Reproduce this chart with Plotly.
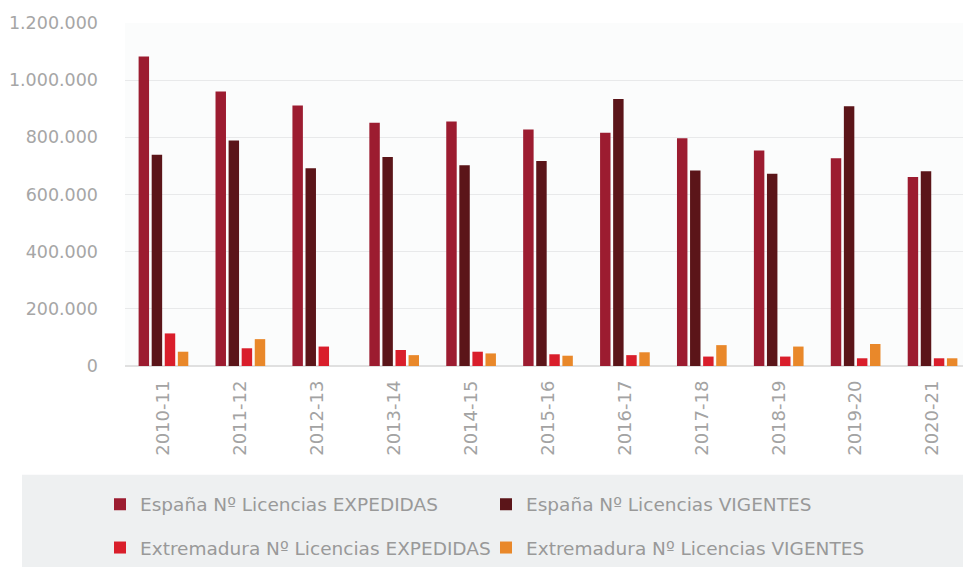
import plotly.graph_objects as go

categories = ["2010-11", "2011-12", "2012-13", "2013-14", "2014-15", "2015-16",
              "2016-17", "2017-18", "2018-19", "2019-20", "2020-21"]
espana_expedidas = [1083000, 960000, 911000, 851000, 855000, 827000, 816000, 797000, 754000, 727000, 661000]
espana_vigentes = [739000, 789000, 692000, 731000, 702000, 717000, 934000, 684000, 673000, 909000, 681000]
extremadura_expedidas = [114000, 62000, 68000, 56000, 50000, 41000, 38000, 33000, 33000, 27000, 27000]
extremadura_vigentes = [50000, 94000, None, 38000, 44000, 36000, 48000, 73000, 68000, 77000, 27000]

names = ["España Nº Licencias EXPEDIDAS", "España Nº Licencias VIGENTES",
         "Extremadura Nº Licencias EXPEDIDAS", "Extremadura Nº Licencias VIGENTES"]
colors = ["#9c1c30", "#5b1519", "#d91e2b", "#e9882a"]
series = [espana_expedidas, espana_vigentes, extremadura_expedidas, extremadura_vigentes]
legends = ["legend", "legend", "legend2", "legend2"]

# page has an 8px body margin; figure sized to fill the rest of the window
W, H = 963, 559
L, T = 117, 15
PB = 359.7          # bottom of plot area in figure px
PW, PH = W - L, PB - T

def px_x(x):
    return (x - L) / PW

def px_y(y):
    return (PB - y) / PH

fig = go.Figure()
for name, col, vals, lg in zip(names, colors, series, legends):
    fig.add_trace(go.Bar(x=categories, y=vals, name=name, marker_color=col,
                         marker_line_width=0, legend=lg))

font_fam = "DejaVu Sans, sans-serif"
leg_common = dict(orientation="h", xanchor="left", yanchor="middle",
                  bgcolor="rgba(0,0,0,0)", entrywidth=341, entrywidthmode="pixels",
                  font=dict(family=font_fam, size=18.5, color="#999999"),
                  itemclick=False, itemdoubleclick=False)
fig.update_layout(
    width=W, height=H,
    margin=dict(l=L, r=0, t=T, b=H - PB),
    paper_bgcolor="white", plot_bgcolor="#fbfcfc",
    barmode="group", bargap=0.32, bargroupgap=0.2,
    separators=",.",
    showlegend=True,
    legend=dict(x=px_x(92), y=px_y(499), **leg_common),
    legend2=dict(x=px_x(92), y=px_y(543), **leg_common),
    xaxis=dict(type="category", tickangle=-90,
               tickfont=dict(family=font_fam, size=18, color="#a3a3a3"),
               showgrid=False, showline=False, ticks="", ticklabelstandoff=10),
    yaxis=dict(range=[0, 1200000], dtick=200000, tickformat=",d",
               tickfont=dict(family=font_fam, size=17.5, color="#a6a6a6"),
               gridcolor="#e8e9ea", gridwidth=1, zeroline=True, zerolinecolor="#e0e0e0",
               ticklabelstandoff=26),
    shapes=[dict(type="rect", xref="paper", yref="paper",
                 x0=px_x(14), x1=1.0, y0=px_y(469), y1=px_y(H + 5),
                 fillcolor="#eef0f1", line_width=0, layer="below")],
)
fig.write_html("out.html")
